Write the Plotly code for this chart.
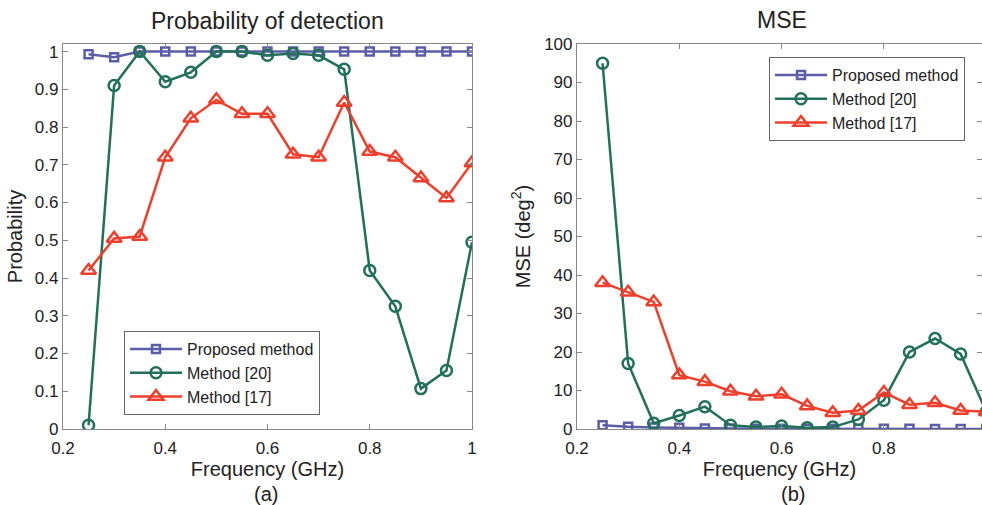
import plotly.graph_objects as go

freq = [0.25, 0.30, 0.35, 0.40, 0.45, 0.50, 0.55, 0.60, 0.65, 0.70, 0.75, 0.80, 0.85, 0.90, 0.95, 1.00]

pd_proposed = [0.993, 0.985, 1.0, 1.0, 1.0, 1.0, 1.0, 1.0, 1.0, 1.0, 1.0, 1.0, 1.0, 1.0, 1.0, 1.0]
pd_m20 = [0.01, 0.91, 1.0, 0.92, 0.945, 1.0, 1.0, 0.99, 0.995, 0.99, 0.953, 0.42, 0.325, 0.107, 0.155, 0.495]
pd_m17 = [0.42, 0.505, 0.51, 0.72, 0.823, 0.872, 0.835, 0.835, 0.728, 0.72, 0.865, 0.735, 0.72, 0.665, 0.612, 0.705]

mse_proposed = [1.0, 0.6, 0.4, 0.3, 0.1, 0.1, 0.05, 0.05, 0.05, 0.05, 0.05, 0.05, 0.05, 0.0, 0.0, 0.0]
mse_m20 = [95, 17, 1.5, 3.5, 5.8, 1.0, 0.5, 0.8, 0.3, 0.5, 2.5, 7.5, 20, 23.5, 19.5, 4.5]
mse_m17 = [38, 35.5, 33, 14, 12.3, 9.8, 8.5, 9, 6, 4.2, 4.8, 9.5, 6.3, 6.8, 4.8, 4.5]

names = ["Proposed method", "Method [20]", "Method [17]"]
colors = ["#5b5ea6", "#22705a", "#ee3f2c"]
symbols = ["square-open", "circle-open", "triangle-up-open"]
sizes = [8, 11, 13]

fig = go.Figure()
for i, ys in enumerate([pd_proposed, pd_m20, pd_m17]):
    fig.add_trace(go.Scatter(x=freq, y=ys, mode="lines+markers", name=names[i],
                             line=dict(color=colors[i], width=2.5),
                             marker=dict(symbol=symbols[i], size=sizes[i], color=colors[i],
                                         line=dict(width=2.5, color=colors[i])),
                             xaxis="x", yaxis="y", legend="legend"))
for i, ys in enumerate([mse_proposed, mse_m20, mse_m17]):
    fig.add_trace(go.Scatter(x=freq, y=ys, mode="lines+markers", name=names[i],
                             line=dict(color=colors[i], width=2.5),
                             marker=dict(symbol=symbols[i], size=sizes[i], color=colors[i],
                                         line=dict(width=2.5, color=colors[i])),
                             xaxis="x2", yaxis="y2", legend="legend2"))

W, H = 982, 505
ydom = [76 / H, 461 / H]
axcommon = dict(showgrid=False, zeroline=False, showline=True, linecolor="#888888", linewidth=1.2,
                mirror="allticks", ticks="inside", ticklen=5, tickcolor="#888888", automargin=False,
                tickfont=dict(size=17, color="#222222"))

fig.update_layout(
    width=W, height=H,
    margin=dict(l=0, r=0, t=0, b=0),
    paper_bgcolor="white", plot_bgcolor="white",
    font=dict(family="Liberation Sans, Arial, sans-serif", color="#222222"),
    xaxis=dict(domain=[63 / W, 472 / W], range=[0.2, 1.0], tickvals=[0.2, 0.4, 0.6, 0.8, 1.0],
               ticktext=["0.2", "0.4", "0.6", "0.8", "1"], anchor="y", ticklabelstandoff=3,
               title=dict(text="Frequency (GHz)", font=dict(size=20), standoff=3), **axcommon),
    yaxis=dict(domain=ydom, range=[0, 1.02], tickvals=[0, 0.1, 0.2, 0.3, 0.4, 0.5, 0.6, 0.7, 0.8, 0.9, 1.0],
               ticktext=["0", "0.1", "0.2", "0.3", "0.4", "0.5", "0.6", "0.7", "0.8", "0.9", "1"], anchor="x",
               title=dict(text="Probability", font=dict(size=20), standoff=6), **axcommon),
    xaxis2=dict(domain=[577 / W, 1.0], range=[0.2, 0.2 + (982 - 577) / 102.3 * 0.2],
                tickvals=[0.2, 0.4, 0.6, 0.8, 1.0], ticktext=["0.2", "0.4", "0.6", "0.8", "1"], anchor="y2",
                ticklabelstandoff=3,
                title=dict(text="Frequency (GHz)", font=dict(size=20), standoff=3), **axcommon),
    yaxis2=dict(domain=ydom, range=[0, 100], tickvals=list(range(0, 101, 10)), anchor="x2",
                title=dict(text="MSE (deg<sup>2</sup>)", font=dict(size=20), standoff=8), **axcommon),
    legend=dict(x=124 / W, y=1 - 331 / H, xanchor="left", yanchor="top", bgcolor="white",
                bordercolor="#666666", borderwidth=1, font=dict(size=16), tracegroupgap=0,
                itemwidth=52),
    legend2=dict(x=769 / W, y=1 - 57 / H, xanchor="left", yanchor="top", bgcolor="white",
                 bordercolor="#666666", borderwidth=1, font=dict(size=16), tracegroupgap=0,
                 itemwidth=52),
    annotations=[
        dict(text="Probability of detection", x=(63 + 472) / 2 / W, y=1 - 21 / H, xref="paper", yref="paper",
             showarrow=False, font=dict(size=23), xanchor="center", yanchor="middle"),
        dict(text="MSE", x=782 / W, y=1 - 20 / H, xref="paper", yref="paper",
             showarrow=False, font=dict(size=23), xanchor="center", yanchor="middle"),
        dict(text="(a)", x=266 / W, y=1 - 494 / H, xref="paper", yref="paper",
             showarrow=False, font=dict(size=20), xanchor="center", yanchor="middle"),
        dict(text="(b)", x=793 / W, y=1 - 494 / H, xref="paper", yref="paper",
             showarrow=False, font=dict(size=20), xanchor="center", yanchor="middle"),
    ],
)

fig.write_html("out.html")
